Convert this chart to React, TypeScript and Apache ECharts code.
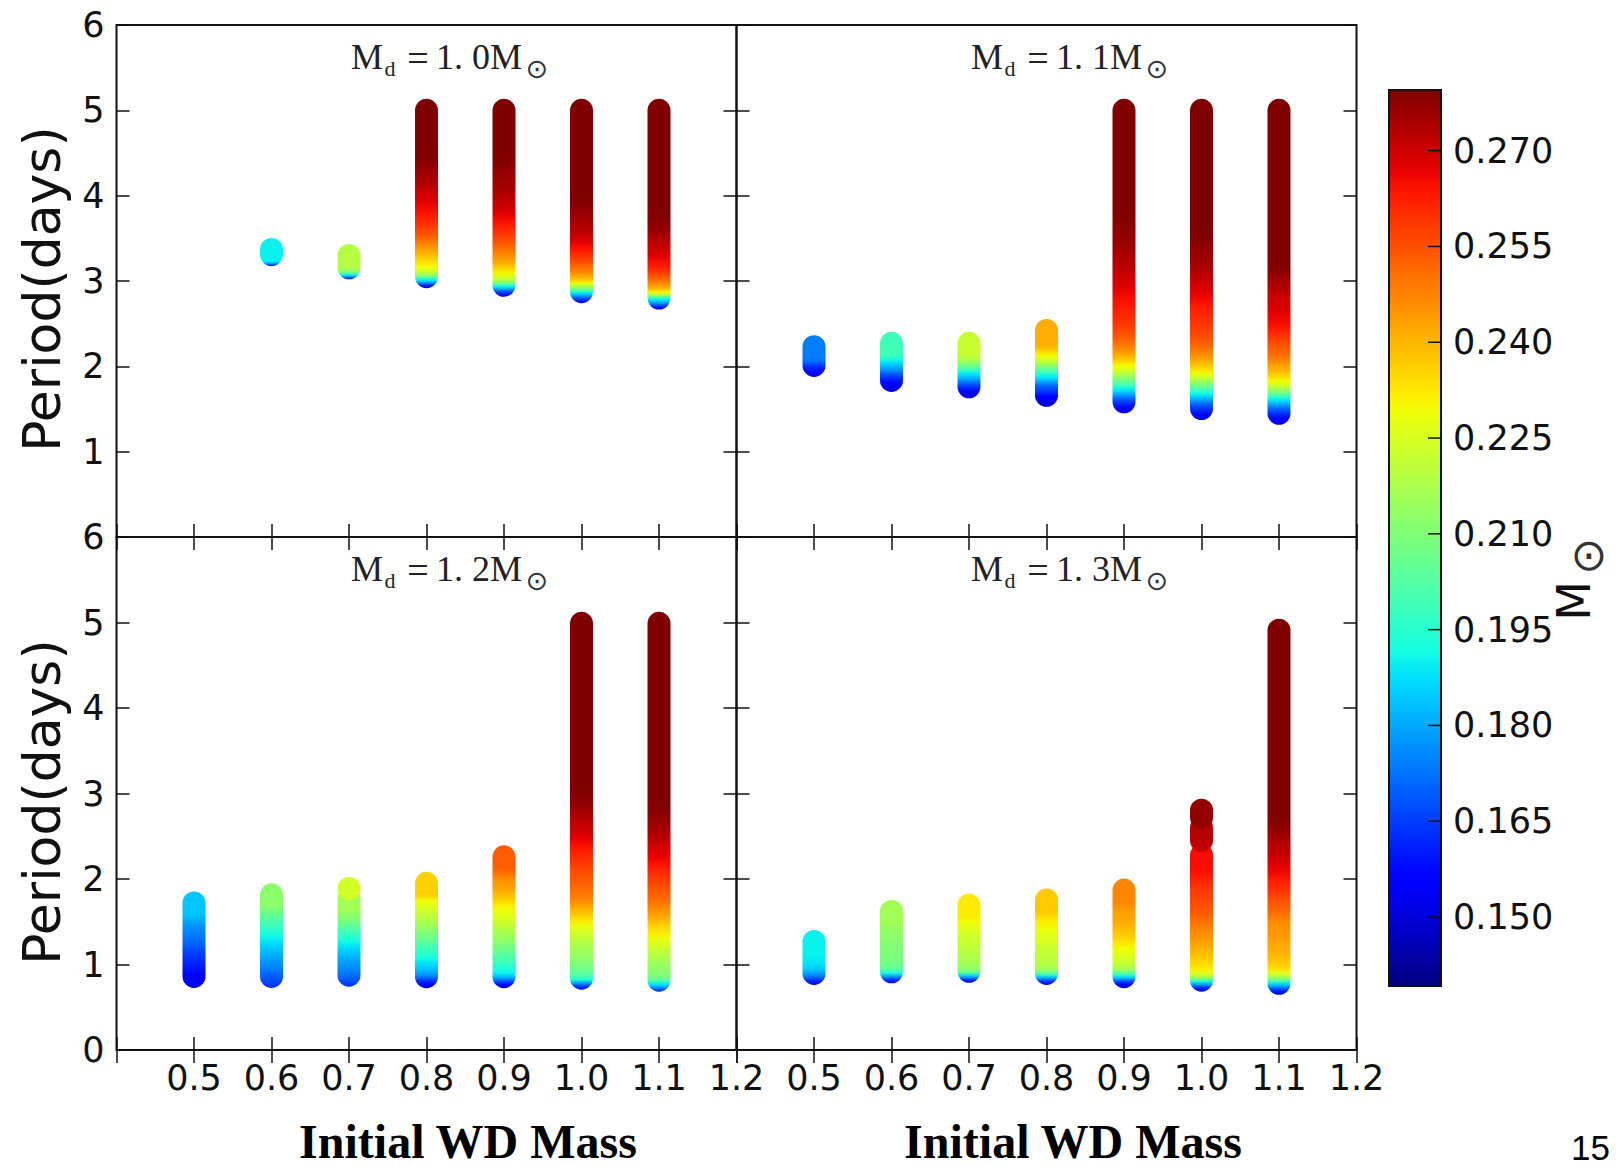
import React, { useEffect, useRef } from "react";
import * as echarts from "echarts";

// ---------- Data: [orbital period (days), final WD mass (Msun)] along each track ----------
// Panel Md = 1.0 Msun
const md10_wd06 = [[3.31, 0.158], [3.33, 0.172], [3.35, 0.185], [3.37, 0.19]];
const md10_wd07 = [[3.155, 0.155], [3.18, 0.175], [3.205, 0.19], [3.23, 0.205], [3.26, 0.215], [3.3, 0.219]];
const md10_wd08 = [[3.05, 0.155], [3.08, 0.16], [3.11, 0.175], [3.14, 0.188], [3.17, 0.2], [3.2, 0.212], [3.24, 0.222], [3.29, 0.229], [3.35, 0.233], [3.42, 0.238], [3.5, 0.243], [3.58, 0.248], [3.67, 0.254], [3.77, 0.258], [3.87, 0.262], [3.97, 0.265], [4.07, 0.268], [4.17, 0.27], [4.27, 0.273], [4.37, 0.275], [4.47, 0.277], [4.57, 0.279], [4.67, 0.28], [4.77, 0.28], [4.87, 0.28], [4.95, 0.28], [5.0, 0.28]];
const md10_wd09 = [[2.95, 0.155], [2.98, 0.16], [3.01, 0.168], [3.04, 0.18], [3.07, 0.19], [3.1, 0.205], [3.13, 0.215], [3.17, 0.223], [3.22, 0.23], [3.29, 0.236], [3.36, 0.242], [3.45, 0.247], [3.54, 0.252], [3.64, 0.257], [3.74, 0.261], [3.84, 0.265], [3.93, 0.268], [4.03, 0.271], [4.13, 0.273], [4.23, 0.275], [4.33, 0.276], [4.43, 0.277], [4.52, 0.279], [4.61, 0.28], [4.7, 0.28], [4.8, 0.28], [4.9, 0.28], [5.0, 0.28]];
const md10_wd10 = [[2.875, 0.155], [2.9, 0.16], [2.93, 0.168], [2.96, 0.178], [2.99, 0.188], [3.02, 0.2], [3.05, 0.212], [3.08, 0.22], [3.11, 0.228], [3.14, 0.236], [3.19, 0.242], [3.24, 0.247], [3.3, 0.251], [3.37, 0.256], [3.44, 0.26], [3.51, 0.264], [3.58, 0.267], [3.65, 0.27], [3.75, 0.273], [3.85, 0.275], [3.95, 0.277], [4.05, 0.279], [4.15, 0.28], [4.25, 0.28], [4.35, 0.28], [4.45, 0.28], [4.55, 0.28], [4.65, 0.28], [4.75, 0.28], [4.85, 0.28], [4.95, 0.28], [5.0, 0.28]];
const md10_wd11 = [[2.8, 0.155], [2.83, 0.16], [2.86, 0.172], [2.89, 0.182], [2.92, 0.19], [2.95, 0.205], [2.98, 0.222], [3.01, 0.232], [3.05, 0.24], [3.1, 0.246], [3.16, 0.252], [3.22, 0.257], [3.29, 0.262], [3.36, 0.265], [3.43, 0.268], [3.51, 0.27], [3.59, 0.272], [3.68, 0.275], [3.77, 0.277], [3.87, 0.279], [3.97, 0.28], [4.07, 0.28], [4.17, 0.28], [4.27, 0.28], [4.37, 0.28], [4.47, 0.28], [4.57, 0.28], [4.67, 0.28], [4.77, 0.28], [4.87, 0.28], [4.95, 0.28], [5.0, 0.28]];

// Panel Md = 1.1 Msun
const md11_wd05 = [[2.01, 0.155], [2.04, 0.157], [2.07, 0.158], [2.1, 0.16], [2.13, 0.163], [2.16, 0.167], [2.19, 0.171], [2.23, 0.174]];
const md11_wd06 = [[1.835, 0.15], [1.87, 0.153], [1.91, 0.155], [1.95, 0.158], [2.0, 0.163], [2.05, 0.17], [2.1, 0.178], [2.15, 0.184], [2.2, 0.19], [2.24, 0.196], [2.27, 0.199]];
const md11_wd07 = [[1.76, 0.152], [1.8, 0.155], [1.84, 0.158], [1.88, 0.162], [1.92, 0.168], [1.96, 0.175], [2.0, 0.182], [2.04, 0.188], [2.08, 0.195], [2.12, 0.203], [2.16, 0.21], [2.2, 0.216], [2.24, 0.22], [2.27, 0.222]];
const md11_wd08 = [[1.66, 0.148], [1.7, 0.15], [1.74, 0.153], [1.78, 0.157], [1.82, 0.162], [1.86, 0.166], [1.9, 0.17], [1.94, 0.177], [1.98, 0.185], [2.02, 0.19], [2.06, 0.197], [2.1, 0.205], [2.14, 0.212], [2.18, 0.22], [2.22, 0.226], [2.26, 0.23], [2.3, 0.234], [2.34, 0.238], [2.38, 0.24], [2.42, 0.241]];
const md11_wd09 = [[1.585, 0.152], [1.62, 0.155], [1.66, 0.158], [1.7, 0.163], [1.74, 0.168], [1.78, 0.175], [1.82, 0.182], [1.86, 0.189], [1.9, 0.196], [1.94, 0.203], [1.98, 0.209], [2.02, 0.215], [2.06, 0.221], [2.1, 0.226], [2.15, 0.23], [2.2, 0.236], [2.26, 0.241], [2.33, 0.246], [2.4, 0.25], [2.48, 0.254], [2.58, 0.257], [2.68, 0.26], [2.78, 0.262], [2.88, 0.264], [2.98, 0.266], [3.08, 0.268], [3.18, 0.27], [3.28, 0.272], [3.38, 0.273], [3.48, 0.275], [3.58, 0.276], [3.68, 0.277], [3.78, 0.278], [3.88, 0.279], [3.98, 0.28], [4.08, 0.28], [4.18, 0.28], [4.28, 0.28], [4.38, 0.28], [4.48, 0.28], [4.58, 0.28], [4.68, 0.28], [4.78, 0.28], [4.88, 0.28], [4.95, 0.28], [5.0, 0.28]];
const md11_wd10 = [[1.505, 0.152], [1.54, 0.155], [1.58, 0.158], [1.62, 0.162], [1.66, 0.167], [1.7, 0.172], [1.74, 0.179], [1.78, 0.186], [1.82, 0.192], [1.86, 0.199], [1.9, 0.206], [1.94, 0.213], [1.98, 0.219], [2.02, 0.225], [2.06, 0.23], [2.11, 0.235], [2.16, 0.239], [2.22, 0.243], [2.29, 0.247], [2.36, 0.251], [2.44, 0.254], [2.54, 0.257], [2.64, 0.259], [2.74, 0.261], [2.84, 0.263], [2.94, 0.266], [3.04, 0.268], [3.14, 0.271], [3.24, 0.273], [3.34, 0.275], [3.44, 0.276], [3.54, 0.277], [3.64, 0.279], [3.74, 0.28], [3.84, 0.28], [3.94, 0.28], [4.04, 0.28], [4.14, 0.28], [4.24, 0.28], [4.34, 0.28], [4.44, 0.28], [4.54, 0.28], [4.64, 0.28], [4.74, 0.28], [4.84, 0.28], [4.94, 0.28], [5.0, 0.28]];
const md11_wd11 = [[1.45, 0.152], [1.49, 0.155], [1.53, 0.158], [1.57, 0.162], [1.61, 0.167], [1.65, 0.173], [1.69, 0.18], [1.73, 0.187], [1.77, 0.195], [1.81, 0.205], [1.85, 0.213], [1.89, 0.22], [1.93, 0.226], [1.97, 0.23], [2.02, 0.235], [2.07, 0.239], [2.13, 0.242], [2.2, 0.247], [2.28, 0.251], [2.37, 0.254], [2.46, 0.258], [2.55, 0.262], [2.64, 0.265], [2.74, 0.267], [2.84, 0.269], [2.94, 0.27], [3.04, 0.273], [3.14, 0.275], [3.24, 0.278], [3.34, 0.28], [3.44, 0.28], [3.54, 0.28], [3.64, 0.28], [3.74, 0.28], [3.84, 0.28], [3.94, 0.28], [4.04, 0.28], [4.14, 0.28], [4.24, 0.28], [4.34, 0.28], [4.44, 0.28], [4.54, 0.28], [4.64, 0.28], [4.74, 0.28], [4.84, 0.28], [4.94, 0.28], [5.0, 0.28]];

// Panel Md = 1.2 Msun
const md12_wd05 = [[0.86, 0.154], [0.92, 0.155], [0.98, 0.156], [1.04, 0.158], [1.1, 0.16], [1.16, 0.162], [1.22, 0.164], [1.28, 0.166], [1.34, 0.169], [1.4, 0.171], [1.46, 0.173], [1.52, 0.175], [1.58, 0.177], [1.64, 0.18], [1.68, 0.182], [1.72, 0.184]];
const md12_wd06 = [[0.86, 0.163], [0.92, 0.166], [0.98, 0.169], [1.04, 0.172], [1.1, 0.175], [1.16, 0.177], [1.22, 0.18], [1.28, 0.182], [1.34, 0.185], [1.4, 0.188], [1.46, 0.191], [1.52, 0.194], [1.58, 0.198], [1.64, 0.201], [1.7, 0.204], [1.76, 0.208], [1.815, 0.212]];
const md12_wd07 = [[0.875, 0.163], [0.93, 0.167], [0.99, 0.171], [1.05, 0.174], [1.11, 0.177], [1.17, 0.179], [1.23, 0.182], [1.29, 0.185], [1.35, 0.188], [1.41, 0.192], [1.47, 0.196], [1.53, 0.2], [1.59, 0.205], [1.65, 0.209], [1.7, 0.212], [1.77, 0.216], [1.89, 0.224]];
const md12_wd08 = [[0.857, 0.152], [0.9, 0.156], [0.95, 0.165], [1.0, 0.175], [1.05, 0.181], [1.1, 0.185], [1.15, 0.188], [1.21, 0.192], [1.27, 0.196], [1.33, 0.199], [1.39, 0.203], [1.45, 0.207], [1.51, 0.21], [1.57, 0.214], [1.63, 0.217], [1.69, 0.22], [1.75, 0.223], [1.81, 0.226], [1.87, 0.229], [1.95, 0.236]];
const md12_wd09 = [[0.857, 0.153], [0.9, 0.158], [0.95, 0.172], [1.0, 0.185], [1.05, 0.191], [1.11, 0.195], [1.17, 0.199], [1.23, 0.202], [1.29, 0.206], [1.35, 0.209], [1.41, 0.212], [1.47, 0.215], [1.53, 0.218], [1.59, 0.221], [1.65, 0.224], [1.71, 0.227], [1.77, 0.229], [1.83, 0.232], [1.89, 0.236], [1.95, 0.239], [2.01, 0.242], [2.07, 0.244], [2.13, 0.246], [2.19, 0.249], [2.26, 0.253]];
const md12_wd10 = [[0.84, 0.158], [0.88, 0.165], [0.92, 0.18], [0.96, 0.195], [1.0, 0.201], [1.05, 0.205], [1.1, 0.208], [1.16, 0.211], [1.22, 0.213], [1.28, 0.215], [1.34, 0.217], [1.4, 0.219], [1.46, 0.222], [1.52, 0.225], [1.58, 0.228], [1.64, 0.232], [1.7, 0.236], [1.77, 0.24], [1.84, 0.244], [1.91, 0.248], [1.98, 0.25], [2.06, 0.252], [2.15, 0.254], [2.24, 0.256], [2.33, 0.259], [2.42, 0.261], [2.51, 0.264], [2.61, 0.267], [2.71, 0.27], [2.81, 0.272], [2.91, 0.275], [3.01, 0.277], [3.11, 0.279], [3.21, 0.28], [3.31, 0.28], [3.41, 0.28], [3.51, 0.28], [3.61, 0.28], [3.71, 0.28], [3.81, 0.28], [3.91, 0.28], [4.01, 0.28], [4.11, 0.28], [4.21, 0.28], [4.31, 0.28], [4.41, 0.28], [4.51, 0.28], [4.61, 0.28], [4.71, 0.28], [4.81, 0.28], [4.91, 0.28], [4.99, 0.28]];
const md12_wd11 = [[0.817, 0.162], [0.86, 0.175], [0.9, 0.188], [0.94, 0.2], [0.99, 0.209], [1.04, 0.211], [1.1, 0.213], [1.16, 0.215], [1.22, 0.218], [1.29, 0.221], [1.36, 0.225], [1.43, 0.228], [1.5, 0.232], [1.57, 0.235], [1.64, 0.239], [1.71, 0.243], [1.78, 0.246], [1.85, 0.249], [1.93, 0.252], [2.01, 0.254], [2.1, 0.257], [2.2, 0.26], [2.3, 0.264], [2.4, 0.267], [2.5, 0.269], [2.6, 0.272], [2.7, 0.274], [2.8, 0.276], [2.9, 0.278], [3.0, 0.28], [3.1, 0.28], [3.2, 0.28], [3.3, 0.28], [3.4, 0.28], [3.5, 0.28], [3.6, 0.28], [3.7, 0.28], [3.8, 0.28], [3.9, 0.28], [4.0, 0.28], [4.1, 0.28], [4.2, 0.28], [4.3, 0.28], [4.4, 0.28], [4.5, 0.28], [4.6, 0.28], [4.7, 0.28], [4.8, 0.28], [4.9, 0.28], [4.99, 0.28]];

// Panel Md = 1.3 Msun
const md13_wd05 = [[0.895, 0.155], [0.94, 0.162], [0.99, 0.172], [1.04, 0.18], [1.09, 0.185], [1.14, 0.188], [1.2, 0.189], [1.27, 0.19]];
const md13_wd06 = [[0.915, 0.155], [0.96, 0.165], [1.0, 0.18], [1.04, 0.195], [1.09, 0.205], [1.15, 0.208], [1.21, 0.209], [1.27, 0.21], [1.33, 0.21], [1.39, 0.211], [1.45, 0.212], [1.51, 0.213], [1.57, 0.214], [1.62, 0.216]];
const md13_wd07 = [[0.92, 0.155], [0.96, 0.165], [1.0, 0.185], [1.04, 0.205], [1.09, 0.214], [1.15, 0.216], [1.21, 0.218], [1.27, 0.219], [1.33, 0.221], [1.39, 0.222], [1.45, 0.223], [1.51, 0.225], [1.57, 0.227], [1.63, 0.229], [1.695, 0.232]];
const md13_wd08 = [[0.895, 0.155], [0.94, 0.165], [0.98, 0.182], [1.02, 0.2], [1.07, 0.214], [1.13, 0.219], [1.19, 0.22], [1.25, 0.221], [1.31, 0.222], [1.37, 0.224], [1.43, 0.226], [1.49, 0.227], [1.55, 0.229], [1.61, 0.231], [1.67, 0.233], [1.755, 0.237]];
const md13_wd09 = [[0.857, 0.153], [0.9, 0.157], [0.94, 0.168], [0.98, 0.185], [1.02, 0.2], [1.07, 0.214], [1.13, 0.221], [1.19, 0.224], [1.25, 0.227], [1.31, 0.229], [1.37, 0.232], [1.43, 0.235], [1.49, 0.237], [1.55, 0.239], [1.61, 0.241], [1.67, 0.242], [1.73, 0.243], [1.79, 0.244], [1.87, 0.247]];
const md13_wd10 = [[0.817, 0.155], [0.86, 0.162], [0.9, 0.178], [0.94, 0.195], [0.98, 0.215], [1.03, 0.226], [1.09, 0.232], [1.15, 0.235], [1.21, 0.237], [1.27, 0.239], [1.33, 0.241], [1.39, 0.243], [1.45, 0.245], [1.51, 0.246], [1.57, 0.248], [1.63, 0.25], [1.69, 0.252], [1.75, 0.254], [1.81, 0.255], [1.87, 0.256], [1.93, 0.257], [1.99, 0.258], [2.06, 0.26], [2.13, 0.262], [2.2, 0.264], [2.28, 0.265], [2.45, 0.27], [2.52, 0.271], [2.6, 0.273], [2.72, 0.276], [2.805, 0.277]];
const md13_wd11 = [[0.78, 0.155], [0.82, 0.16], [0.86, 0.172], [0.9, 0.185], [0.94, 0.2], [0.98, 0.215], [1.03, 0.226], [1.09, 0.234], [1.15, 0.237], [1.22, 0.239], [1.3, 0.241], [1.38, 0.242], [1.46, 0.244], [1.54, 0.245], [1.62, 0.246], [1.7, 0.249], [1.78, 0.252], [1.86, 0.254], [1.94, 0.257], [2.02, 0.26], [2.1, 0.262], [2.18, 0.265], [2.26, 0.267], [2.34, 0.269], [2.42, 0.271], [2.5, 0.272], [2.58, 0.274], [2.66, 0.276], [2.76, 0.278], [2.86, 0.28], [2.96, 0.28], [3.06, 0.28], [3.16, 0.28], [3.26, 0.28], [3.36, 0.28], [3.46, 0.28], [3.56, 0.28], [3.66, 0.28], [3.76, 0.28], [3.86, 0.28], [3.96, 0.28], [4.06, 0.28], [4.16, 0.28], [4.26, 0.28], [4.36, 0.28], [4.46, 0.28], [4.56, 0.28], [4.66, 0.28], [4.76, 0.28], [4.86, 0.28], [4.91, 0.28]];

// Initial WD mass of each track, per panel
const PANEL_MD10 = [[0.6, md10_wd06], [0.7, md10_wd07], [0.8, md10_wd08], [0.9, md10_wd09], [1.0, md10_wd10], [1.1, md10_wd11]];
const PANEL_MD11 = [[0.5, md11_wd05], [0.6, md11_wd06], [0.7, md11_wd07], [0.8, md11_wd08], [0.9, md11_wd09], [1.0, md11_wd10], [1.1, md11_wd11]];
const PANEL_MD12 = [[0.5, md12_wd05], [0.6, md12_wd06], [0.7, md12_wd07], [0.8, md12_wd08], [0.9, md12_wd09], [1.0, md12_wd10], [1.1, md12_wd11]];
const PANEL_MD13 = [[0.5, md13_wd05], [0.6, md13_wd06], [0.7, md13_wd07], [0.8, md13_wd08], [0.9, md13_wd09], [1.0, md13_wd10], [1.1, md13_wd11]];
const PANELS: any[] = [PANEL_MD10, PANEL_MD11, PANEL_MD12, PANEL_MD13];
const PANEL_DONOR = ["1. 0", "1. 1", "1. 2", "1. 3"];

const X_MIN = 0.4;
const X_MAX = 1.2;
const X_STEP = 0.1;
const Y_MIN = 0;
const Y_MAX = 6;
const Y_STEP = 1;
const CB_MIN = 0.1392;
const CB_MAX = 0.2795;
const CB_TICKS = [0.15, 0.165, 0.18, 0.195, 0.21, 0.225, 0.24, 0.255, 0.27];

// ---------- jet colormap (matplotlib segment data) ----------
const JET_R = [[0, 0], [0.35, 0], [0.66, 1], [0.89, 1], [1, 0.5]];
const JET_G = [[0, 0], [0.125, 0], [0.375, 1], [0.64, 1], [0.91, 0], [1, 0]];
const JET_B = [[0, 0.5], [0.11, 1], [0.34, 1], [0.65, 0], [1, 0]];
function seg(pts: number[][], t: number) {
  for (let i = 1; i < pts.length; i++) {
    if (t <= pts[i][0]) {
      const [x0, y0] = pts[i - 1];
      const [x1, y1] = pts[i];
      return y0 + ((y1 - y0) * (t - x0)) / (x1 - x0);
    }
  }
  return pts[pts.length - 1][1];
}
function jet(t: number) {
  const c = (v: number) => Math.round(Math.max(0, Math.min(1, v)) * 255);
  return `rgb(${c(seg(JET_R, t))},${c(seg(JET_G, t))},${c(seg(JET_B, t))})`;
}
function massColor(m: number) {
  const t = (m - CB_MIN) / (CB_MAX - CB_MIN);
  return jet(Math.max(0, Math.min(1, t)));
}
const JET_N = 64;
const JET_COLORS: string[] = [];
for (let i = 0; i <= JET_N; i++) JET_COLORS.push(jet(i / JET_N));

// ---------- layout ----------
const GRIDS = [
  { left: 116.5, top: 25, width: 620, height: 512 },
  { left: 736.5, top: 25, width: 620, height: 512 },
  { left: 116.5, top: 537, width: 620, height: 513 },
  { left: 736.5, top: 537, width: 620, height: 513 },
];
const CB_GRID = { left: 1389, top: 90, width: 52, height: 896 };
const INK = "#111";
const SANS = "DejaVu Sans";
const SERIF = "Liberation Serif";
const MARKER_R = 11.5; // marker radius in px
const GAP_SPLIT = 0.115; // a gap in period wider than this separates marker runs

// split a track into runs of overlapping markers
function splitTrack(pts: number[][]) {
  const runs: number[][][] = [[pts[0]]];
  for (let k = 1; k < pts.length; k++) {
    if (pts[k][0] - pts[k - 1][0] > GAP_SPLIT) runs.push([]);
    runs[runs.length - 1].push(pts[k]);
  }
  return runs;
}

function buildOption() {
  const tick = { show: true, inside: true, length: 13, lineStyle: { color: INK, width: 1.5 } };
  const grid: any[] = GRIDS.map((g) => ({
    ...g,
    show: true,
    borderColor: INK,
    borderWidth: 2,
    backgroundColor: "transparent",
    containLabel: false,
    outerBoundsMode: "none",
  }));
  grid.push({ ...CB_GRID, show: false, containLabel: false, outerBoundsMode: "none" });

  const xAxis: any[] = [];
  const yAxis: any[] = [];
  GRIDS.forEach((_, i) => {
    const base = {
      type: "value",
      gridIndex: i,
      min: X_MIN,
      max: X_MAX,
      interval: X_STEP,
      axisLine: { show: false },
      splitLine: { show: false },
      axisTick: tick,
      z: 10,
    };
    xAxis.push({
      ...base,
      position: "bottom",
      axisLabel: {
        show: i >= 2,
        showMinLabel: true,
        showMaxLabel: true,
        formatter: (v: number) => (v < 0.45 ? "" : v.toFixed(1)),
        fontFamily: SANS,
        fontSize: 35,
        color: INK,
        margin: 10,
      },
    });
    xAxis.push({ ...base, position: "top", axisLabel: { show: false } });
    const ybase = {
      type: "value",
      gridIndex: i,
      min: Y_MIN,
      max: Y_MAX,
      interval: Y_STEP,
      axisLine: { show: false },
      splitLine: { show: false },
      axisTick: tick,
      z: 10,
    };
    yAxis.push({
      ...ybase,
      position: "left",
      axisLabel: {
        show: i % 2 === 0,
        showMinLabel: true,
        showMaxLabel: true,
        formatter: (v: number) => (i === 0 && v === 0 ? "" : String(v)),
        fontFamily: SANS,
        fontSize: 35,
        color: INK,
        margin: 12,
      },
    });
    yAxis.push({ ...ybase, position: "right", axisLabel: { show: false } });
  });
  // colorbar axes
  xAxis.push({ type: "value", gridIndex: 4, min: 0, max: 1, show: false });
  yAxis.push({
    type: "value",
    gridIndex: 4,
    min: CB_MIN,
    max: CB_MAX,
    position: "right",
    axisLine: { show: false },
    splitLine: { show: false },
    axisTick: { show: false },
    axisLabel: {
      customValues: CB_TICKS,
      formatter: (v: number) => v.toFixed(3),
      fontFamily: SANS,
      fontSize: 35,
      color: INK,
      margin: 12,
    },
    z: 10,
  });

  // Each track is drawn as a dense stack of round markers (later = higher period drawn on top):
  // the visible colour at a level is that of the marker whose lower edge sits there.
  const series: any[] = PANELS.map((cols: any[], i: number) => {
    const runs: { wd: number; pts: number[][] }[] = [];
    cols.forEach(([wd, pts]: [number, number[][]]) => splitTrack(pts).forEach((r) => runs.push({ wd, pts: r })));
    return {
      type: "custom",
      name: `Md=${PANEL_DONOR[i].replace(" ", "")}`,
      xAxisIndex: 2 * i,
      yAxisIndex: 2 * i,
      silent: true,
      encode: { x: 0, y: [1, 2] },
      data: runs.map((r) => [r.wd, r.pts[0][0], r.pts[r.pts.length - 1][0]]),
      renderItem: (params: any, api: any) => {
        const run = runs[params.dataIndex];
        const pts = run.pts;
        const wd = api.value(0);
        const pb = api.coord([wd, pts[0][0]]);
        const pt = api.coord([wd, pts[pts.length - 1][0]]);
        const top = pt[1] - MARKER_R;
        const bottom = pb[1] + MARKER_R;
        const h = bottom - top;
        const stops: any[] = [{ offset: 0, color: massColor(pts[pts.length - 1][1]) }];
        for (let k = pts.length - 1; k >= 0; k--) {
          const y = api.coord([wd, pts[k][0]])[1] + MARKER_R;
          stops.push({ offset: Math.max(0, Math.min(1, (y - top) / h)), color: massColor(pts[k][1]) });
        }
        return {
          type: "rect",
          shape: { x: pb[0] - MARKER_R, y: top, width: 2 * MARKER_R, height: h, r: MARKER_R },
          style: { fill: new echarts.graphic.LinearGradient(0, 0, 0, 1, stops) },
        };
      },
    };
  });

  const gradStops = JET_COLORS.map((c, k) => ({ offset: 1 - k / JET_N, color: c })).reverse();
  series.push({
    type: "custom",
    xAxisIndex: 8,
    yAxisIndex: 8,
    silent: true,
    z: 5,
    encode: { x: [0, 2], y: [1, 3] },
    data: [[0, CB_MIN, 1, CB_MAX]],
    renderItem: (params: any, api: any) => {
      const tl = api.coord([api.value(0), api.value(3)]);
      const br = api.coord([api.value(2), api.value(1)]);
      const children: any[] = [
        {
          type: "rect",
          shape: { x: tl[0], y: tl[1], width: br[0] - tl[0], height: br[1] - tl[1] },
          style: {
            fill: new echarts.graphic.LinearGradient(0, 0, 0, 1, gradStops),
            stroke: INK,
            lineWidth: 2,
          },
        },
      ];
      CB_TICKS.forEach((v) => {
        const y = api.coord([1, v])[1];
        children.push({
          type: "line",
          shape: { x1: br[0] - 13, y1: y, x2: br[0], y2: y },
          style: { stroke: INK, lineWidth: 1.5 },
        });
      });
      return { type: "group", children };
    },
  });

  const txt = (x: number, y: number, text: string, size: number, family: string, extra: any = {}, styleExtra: any = {}) => ({
    type: "text",
    x,
    y,
    silent: true,
    ...extra,
    style: {
      text,
      fontSize: size,
      fontFamily: family,
      fill: INK,
      align: "left",
      textAlign: "left",
      verticalAlign: "middle",
      textVerticalAlign: "middle",
      ...styleExtra,
    },
  });
  const center = { align: "center", textAlign: "center" };

  const graphic: any[] = [];
  GRIDS.forEach((g, i) => {
    const L = g.left;
    const T = g.top;
    graphic.push(txt(L + 234.5, T + 32, "M", 36, SERIF, {}, { fill: "#222" }));
    graphic.push(txt(L + 268, T + 43, "d", 22, SERIF, {}, { fill: "#222" }));
    graphic.push(txt(L + 301.5, T + 33, "=", 38, SERIF, {}, { ...center, fill: "#222" }));
    graphic.push(txt(L + 319.5, T + 32, PANEL_DONOR[i] + "M", 36, SERIF, {}, { fill: "#222" }));
    graphic.push(txt(L + 420.5, T + 43, "\u2299", 27, SANS, {}, { ...center, fill: "#333" }));
  });
  [289, 802].forEach((y) => graphic.push(txt(42, y, "Period(days)", 52, SANS, { rotation: Math.PI / 2 }, center)));
  [468, 1073].forEach((x) =>
    graphic.push(txt(x, 1141, "Initial WD Mass", 48, SERIF, {}, { ...center, fontWeight: "bold", fill: "#000" }))
  );
  graphic.push(txt(1574, 601, "M", 46, SANS, { rotation: Math.PI / 2 }, center));
  graphic.push(txt(1589, 554, "\u2299", 44, SANS, {}, { ...center, fill: "#333" }));
  graphic.push(txt(1571, 1147, "15", 35, "Liberation Sans", {}, { fill: "#000" }));

  return {
    animation: false,
    backgroundColor: "#fff",
    grid,
    xAxis,
    yAxis,
    series,
    graphic: { elements: graphic },
  };
}

export default function App() {
  const ref = useRef<HTMLDivElement>(null);
  useEffect(() => {
    if (!ref.current) return;
    const chart = echarts.init(ref.current, null, { renderer: "svg" });
    chart.setOption(buildOption() as any);
    return () => chart.dispose();
  }, []);
  return (
    <div
      ref={ref}
      style={{ position: "fixed", left: 0, top: 0, width: 1616, height: 1166, background: "#fff" }}
    />
  );
}
